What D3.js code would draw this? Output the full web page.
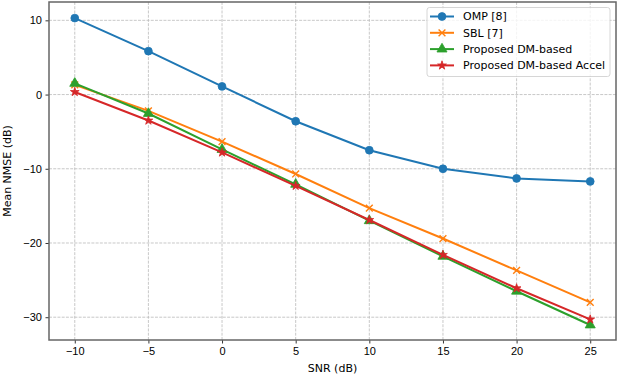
<!DOCTYPE html>
<html>
<head>
<meta charset="utf-8">
<script src="https://cdn.jsdelivr.net/npm/d3@7"></script>
<style>
  body { margin: 0; background: #fff; }
  svg { display: block; font-family: "DejaVu Sans", sans-serif; }
  .tick text { font-size: 11px; fill: #000; }
</style>
</head>
<body>
<svg id="chart" width="618" height="376"></svg>
<script>
"use strict";

var snr = [-10, -5, 0, 5, 10, 15, 20, 25];
var omp = [10.3, 5.85, 1.1, -3.6, -7.5, -10.0, -11.3, -11.7];
var sbl = [1.3, -2.2, -6.35, -10.7, -15.3, -19.4, -23.7, -28.0];
var dm = [1.5, -2.55, -7.4, -12.1, -17.0, -21.8, -26.5, -31.05];
var dmAccel = [0.35, -3.5, -7.8, -12.3, -16.9, -21.6, -26.1, -30.3];

var xTicks = [-10, -5, 0, 5, 10, 15, 20, 25];
var yTicks = [10, 0, -10, -20, -30];

var series = [
    { name: 'OMP [8]', values: omp, color: '#1f77b4', marker: 'circle' },
    { name: 'SBL [7]', values: sbl, color: '#ff7f0e', marker: 'x' },
    { name: 'Proposed DM-based', values: dm, color: '#2ca02c', marker: 'triangle' },
    { name: 'Proposed DM-based Accel', values: dmAccel, color: '#d62728', marker: 'star' }
];

var svg = d3.select('#chart');
var pLeft = 49, pRight = 616, pTop = 2, pBottom = 340;

var x = d3.scaleLinear().domain([-11.75, 26.75]).range([pLeft, pRight]);
var y = d3.scaleLinear().domain([-33.07, 12.47]).range([pBottom, pTop]);

// grid
var grid = svg.append('g').attr('stroke', '#b0b0b0').attr('stroke-width', 0.8)
    .attr('stroke-dasharray', '2.96,1.28').attr('opacity', 0.85);
grid.selectAll('.gx').data(xTicks).enter().append('line')
    .attr('x1', function(d) { return x(d); }).attr('x2', function(d) { return x(d); })
    .attr('y1', pTop).attr('y2', pBottom);
grid.selectAll('.gy').data(yTicks).enter().append('line')
    .attr('y1', function(d) { return y(d); }).attr('y2', function(d) { return y(d); })
    .attr('x1', pLeft).attr('x2', pRight);

function fmt(d) { return d < 0 ? '\u2212' + Math.abs(d) : String(d); }

var xAxis = svg.append('g').attr('transform', 'translate(0,' + pBottom + ')')
    .call(d3.axisBottom(x).tickValues(xTicks).tickFormat(fmt).tickSize(3.5).tickPadding(3.5));
var yAxis = svg.append('g').attr('transform', 'translate(' + pLeft + ',0)')
    .call(d3.axisLeft(y).tickValues(yTicks).tickFormat(fmt).tickSize(3.5).tickPadding(3.5));
[xAxis, yAxis].forEach(function(a) {
    a.select('.domain').remove();
    a.selectAll('.tick line').attr('stroke', '#000').attr('stroke-width', 0.8);
});

// spines
svg.append('rect').attr('x', pLeft).attr('y', pTop).attr('width', pRight - pLeft).attr('height', pBottom - pTop)
    .attr('fill', 'none').attr('stroke', '#666').attr('stroke-width', 1.5);

var line = d3.line().x(function(d, i) { return x(snr[i]); }).y(function(d) { return y(d); });

var symbols = {
    circle: d3.symbol().type(d3.symbolCircle).size(48),
    x: d3.symbol().type(d3.symbolX).size(32),
    triangle: d3.symbol().type(d3.symbolTriangle).size(44),
    star: d3.symbol().type(d3.symbolStar).size(24)
};

function drawMarker(g, s) {
    var p = g.append('path').attr('d', symbols[s.marker]());
    if (s.marker === 'x') {
        p.attr('fill', 'none').attr('stroke', s.color).attr('stroke-width', 1.4);
    } else {
        p.attr('fill', s.color).attr('stroke', s.color).attr('stroke-width', 0.8);
    }
    return p;
}

series.forEach(function(s) {
    var g = svg.append('g');
    g.append('path').datum(s.values).attr('d', line)
        .attr('fill', 'none').attr('stroke', s.color).attr('stroke-width', 2);
    s.values.forEach(function(v, i) {
        var m = g.append('g').attr('transform', 'translate(' + x(snr[i]) + ',' + y(v) + ')');
        drawMarker(m, s);
    });
});

// legend
var lg = svg.append('g');
lg.append('rect').attr('x', 427).attr('y', 7.5).attr('width', 183).attr('height', 69).attr('rx', 2.5)
    .attr('fill', '#fff').attr('fill-opacity', 0.8).attr('stroke', '#ccc').attr('stroke-width', 0.8);
series.forEach(function(s, i) {
    var yy = 16.5 + i * 16.3;
    var e = lg.append('g');
    e.append('line').attr('x1', 430).attr('x2', 454).attr('y1', yy).attr('y2', yy)
        .attr('stroke', s.color).attr('stroke-width', 2);
    drawMarker(e.append('g').attr('transform', 'translate(442,' + yy + ')'), s);
    e.append('text').attr('x', 463).attr('y', yy).attr('dy', '0.35em')
        .attr('font-size', 11).text(s.name);
});

// axis labels
svg.append('text').attr('x', (pLeft + pRight) / 2).attr('y', 372).attr('text-anchor', 'middle')
    .attr('font-size', 11).text('SNR (dB)');
svg.append('text').attr('transform', 'translate(11,' + ((pTop + pBottom) / 2) + ') rotate(-90)')
    .attr('text-anchor', 'middle').attr('font-size', 11).text('Mean NMSE (dB)');
</script>
</body>
</html>
